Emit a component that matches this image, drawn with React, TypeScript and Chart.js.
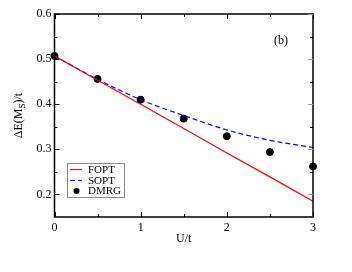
import { useEffect, useRef } from "react";
import { Chart, registerables } from "chart.js";
Chart.register(...registerables);

const uValues = [0, 0.5, 1, 1.5, 2, 2.5, 3];
const foptValues = [0.507, 0.453, 0.4, 0.346, 0.292, 0.239, 0.185];
const soptValues = [0.507, 0.455, 0.41, 0.375, 0.343, 0.32, 0.304];
const dmrgValues = [0.507, 0.456, 0.41, 0.368, 0.329, 0.294, 0.262];
const xTicks = [0, 1, 2, 3];
const yTicks = [0.2, 0.3, 0.4, 0.5, 0.6];
const xMinor = [0.5, 1.5, 2.5];
const yMinor = [0.25, 0.35, 0.45, 0.55];
const legendLabels = ["FOPT", "SOPT", "DMRG"];
const panelLabel = "(b)";
const xTitle = "U/t";

const FONT = "'Liberation Serif', 'Times New Roman', serif";

export default function App() {
  const ref = useRef<HTMLCanvasElement>(null);
  useEffect(() => {
    document.body.style.margin = "0";
    const canvas = ref.current!;
    const toPts = (vals: number[]) => uValues.map((u, i) => ({ x: u, y: vals[i] }));
    const decor = {
      id: "decor",
      afterDraw(chart: any) {
        const ctx = chart.ctx as CanvasRenderingContext2D;
        const { left, right, top, bottom } = chart.chartArea;
        const xs = chart.scales.x;
        const ys = chart.scales.y;
        ctx.save();
        // frame
        ctx.strokeStyle = "#000";
        ctx.lineWidth = 1.5;
        ctx.strokeRect(left, top, right - left, bottom - top);
        // ticks
        ctx.lineWidth = 1;
        const tick = (x1: number, y1: number, x2: number, y2: number, c: string) => {
          ctx.strokeStyle = c;
          ctx.beginPath();
          ctx.moveTo(x1, y1);
          ctx.lineTo(x2, y2);
          ctx.stroke();
        };
        xTicks.forEach((v) => {
          const p = Math.round(xs.getPixelForValue(v)) + 0.5;
          tick(p, bottom, p, bottom - 5, "#000");
          tick(p, top, p, top + 5, "#000");
        });
        xMinor.forEach((v) => {
          const p = Math.round(xs.getPixelForValue(v)) + 0.5;
          tick(p, bottom, p, bottom - 3, "#000");
          tick(p, top, p, top + 3, "#000");
        });
        yTicks.forEach((v) => {
          const p = Math.round(ys.getPixelForValue(v)) + 0.5;
          tick(left, p, left + 5, p, "#000");
          tick(right, p, right - 5, p, "#999");
        });
        yMinor.forEach((v) => {
          const p = Math.round(ys.getPixelForValue(v)) + 0.5;
          tick(left, p, left + 3, p, "#000");
          tick(right, p, right - 3, p, "#000");
        });
        // x title
        ctx.fillStyle = "#000";
        ctx.font = `12px ${FONT}`;
        ctx.textAlign = "center";
        ctx.textBaseline = "middle";
        ctx.fillText(xTitle, (left + right) / 2, bottom + 22);
        // panel label
        ctx.fillText(panelLabel, xs.getPixelForValue(2.63), ys.getPixelForValue(0.54));
        // y title
        ctx.save();
        ctx.translate(19, (top + bottom) / 2);
        ctx.rotate(-Math.PI / 2);
        ctx.textAlign = "left";
        ctx.textBaseline = "middle";
        const p1 = "ΔE(M";
        const p2 = "S";
        const p3 = ")/t";
        ctx.font = `12px ${FONT}`;
        const w1 = ctx.measureText(p1).width;
        const w3 = ctx.measureText(p3).width;
        ctx.font = `9px ${FONT}`;
        const w2 = ctx.measureText(p2).width;
        const total = w1 + w2 + w3;
        let x0 = -total / 2;
        ctx.font = `12px ${FONT}`;
        ctx.fillText(p1, x0, 0);
        ctx.font = `9px ${FONT}`;
        ctx.fillText(p2, x0 + w1, 4);
        ctx.font = `12px ${FONT}`;
        ctx.fillText(p3, x0 + w1 + w2, 0);
        ctx.restore();
        // legend
        const bx = 67.5, by = 163.5, bw = 57, bh = 34;
        ctx.strokeStyle = "#888";
        ctx.lineWidth = 1;
        ctx.strokeRect(bx, by, bw, bh);
        const rows = [169.5, 180.5, 191];
        ctx.font = `11px ${FONT}`;
        ctx.textAlign = "left";
        ctx.textBaseline = "middle";
        chart.data.datasets.forEach((ds: any, i: number) => {
          const y = rows[i];
          if (i < 2) {
            ctx.strokeStyle = ds.borderColor;
            ctx.lineWidth = 1.2;
            ctx.setLineDash(ds.borderDash || []);
            ctx.beginPath();
            ctx.moveTo(70, y);
            ctx.lineTo(82, y);
            ctx.stroke();
            ctx.setLineDash([]);
          } else {
            ctx.fillStyle = "#000";
            ctx.beginPath();
            ctx.arc(76.5, y, 3, 0, Math.PI * 2);
            ctx.fill();
          }
          ctx.fillStyle = "#000";
          ctx.fillText(legendLabels[i], 88, y + 0.5);
        });
        ctx.restore();
      },
    };
    const chart = new Chart(canvas, {
      type: "line",
      data: {
        datasets: [
          {
            label: legendLabels[0],
            data: toPts(foptValues),
            borderColor: "#ff0000",
            borderWidth: 1.2,
            pointRadius: 0,
            tension: 0,
          },
          {
            label: legendLabels[1],
            data: toPts(soptValues),
            borderColor: "#0000ff",
            borderWidth: 1.2,
            borderDash: [5, 3],
            pointRadius: 0,
            tension: 0.4,
            cubicInterpolationMode: "monotone",
          },
          {
            label: legendLabels[2],
            data: toPts(dmrgValues),
            showLine: false,
            pointRadius: 3.5,
            pointBackgroundColor: "#000",
            pointBorderColor: "#000",
            borderColor: "#000",
          },
        ],
      } as any,
      options: {
        animation: false,
        responsive: false,
        clip: false as any,
        layout: { padding: { top: 14, right: 39, left: 0, bottom: 0 } },
        plugins: { legend: { display: false }, tooltip: { enabled: false } },
        scales: {
          x: {
            type: "linear",
            min: 0,
            max: 3,
            grid: { display: false, drawTicks: false },
            border: { display: false },
            afterBuildTicks: (s: any) => {
              s.ticks = xTicks.map((v) => ({ value: v }));
            },
            afterFit: (s: any) => {
              s.height = 55;
            },
            ticks: {
              padding: 4,
              color: "#000",
              font: { family: FONT, size: 12 },
              callback: (v: any) => String(v),
            },
          },
          y: {
            type: "linear",
            min: 0.15,
            max: 0.6,
            grid: { display: false, drawTicks: false },
            border: { display: false },
            afterBuildTicks: (s: any) => {
              s.ticks = yTicks.map((v) => ({ value: v }));
            },
            afterFit: (s: any) => {
              s.width = 54.5;
            },
            ticks: {
              padding: 3,
              color: "#000",
              font: { family: FONT, size: 12 },
              callback: (v: any) => Number(v).toFixed(1),
            },
          },
        },
      },
      plugins: [decor],
    });
    return () => chart.destroy();
  }, []);
  return <canvas ref={ref} width={352} height={272} style={{ display: "block" }} />;
}
